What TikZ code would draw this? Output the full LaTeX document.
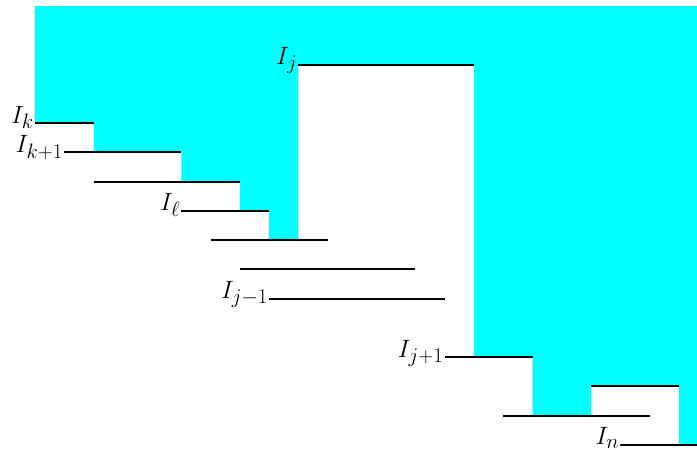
\documentclass[tikz,border=0pt]{standalone}
\definecolor{aqua}{RGB}{0,255,255}
\begin{document}
\begin{tikzpicture}[x=1cm,y=1cm,
  seg/.style={line width=2pt,black},
  lab/.style={anchor=base east,inner sep=1pt,font=\Huge,scale=0.98,transform shape}]
\useasboundingbox (-1.196,0.205) rectangle (22.62,-15.17);
% cyan region
\fill[aqua] (0,0) -- (0,-4) -- (2,-4) -- (2,-5) -- (5,-5) -- (5,-6) -- (7,-6) -- (7,-7)
  -- (8,-7) -- (8,-8) -- (9,-8) -- (9,-2) -- (15,-2) -- (15,-12) -- (17,-12) -- (17,-14)
  -- (19,-14) -- (19,-13) -- (22,-13) -- (22,-15) -- (22.62,-15) -- (22.62,0) -- cycle;
% segment end points
\coordinate (jA) at (9,-2);   \coordinate (jB) at (15,-2);
\coordinate (kA) at (0,-4);   \coordinate (kB) at (2,-4);
\coordinate (k1A) at (1,-5);  \coordinate (k1B) at (5,-5);
\coordinate (s6A) at (2,-6);  \coordinate (s6B) at (7,-6);
\coordinate (lA) at (5,-7);   \coordinate (lB) at (8,-7);
\coordinate (s8A) at (6,-8);  \coordinate (s8B) at (10,-8);
\coordinate (s9A) at (7,-9);  \coordinate (s9B) at (13,-9);
\coordinate (jmA) at (8,-10); \coordinate (jmB) at (14,-10);
\coordinate (jpA) at (14,-12);\coordinate (jpB) at (17,-12);
\coordinate (s13A) at (19,-13);\coordinate (s13B) at (22,-13);
\coordinate (s14A) at (16,-14);\coordinate (s14B) at (21,-14);
\coordinate (nA) at (20,-15); \coordinate (nB) at (22.62,-15);
% segments
\draw[seg] (jA) -- (jB);
\draw[seg] (kA) -- (kB);
\draw[seg] (k1A) -- (k1B);
\draw[seg] (s6A) -- (s6B);
\draw[seg] (lA) -- (lB);
\draw[seg] (s8A) -- (s8B);
\draw[seg] (s9A) -- (s9B);
\draw[seg] (jmA) -- (jmB);
\draw[seg] (jpA) -- (jpB);
\draw[seg] (s13A) -- (s13B);
\draw[seg] (s14A) -- (s14B);
\draw[seg] (nA) -- (nB);
% labels
\node[lab] (Lj) at (jA) {$I_j$};
\node[lab] (Lk) at (kA) {$I_k$};
\node[lab] (Lk1) at (k1A) {$I_{k+1}$};
\node[lab] (Ll) at (lA) {$I_\ell$};
\node[lab] (Ljm) at (jmA) {$I_{j-1}$};
\node[lab] (Ljp) at (jpA) {$I_{j+1}$};
\node[lab] (Ln) at (nA) {$I_n$};
\end{tikzpicture}
\end{document}
